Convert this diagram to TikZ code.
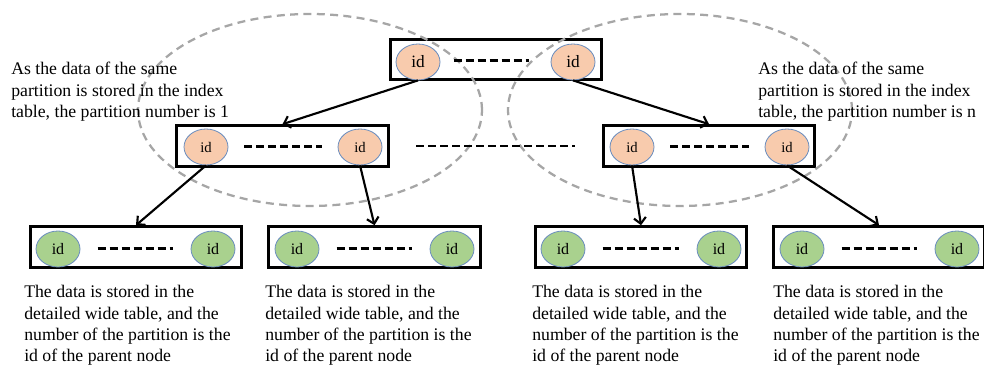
\documentclass[tikz,border=0pt]{standalone}
\usepackage{fontspec}
\setmainfont{Liberation Serif}
\usetikzlibrary{shapes.geometric,arrows.meta}
\definecolor{peach}{HTML}{F8CBAD}
\definecolor{leaf}{HTML}{A9D18E}
\definecolor{idline}{HTML}{6A8DBE}
\definecolor{grp}{HTML}{A6A6A6}
\begin{document}
\begin{tikzpicture}[x=0.75pt,y=-0.75pt,
  tbl/.style={draw=black,line width=2.2pt,minimum width=158.5pt,minimum height=30.5pt,inner sep=0pt},
  idn/.style={ellipse,draw=idline,line width=0.6pt,minimum width=33pt,minimum height=27pt,inner sep=0pt},
  idtop/.style={idn,fill=peach,font=\fontsize{13}{15}\selectfont},
  idmid/.style={idn,fill=peach,font=\fontsize{11}{13}\selectfont},
  idbot/.style={idn,fill=leaf,font=\fontsize{12}{14}\selectfont},
  dotline/.style={black,line width=2pt,dash pattern=on 6pt off 3pt},
  grpline/.style={grp,line width=1.7pt,dash pattern=on 6pt off 4pt},
  arr/.style={black,line width=1.6pt,-{Straight Barb[length=4.5pt,width=9pt]}},
  txt/.style={anchor=north west,align=left,inner sep=0pt,font=\fontsize{13.3}{16.1}\selectfont}]
\useasboundingbox (0,0) rectangle (984,367);
% table boxes
\node[tbl] (top) at (496,59.5) {};
\node[tbl] (ml) at (282.5,146) {};
\node[tbl] (mr) at (709,146) {};
\node[tbl] (b1) at (136,247) {};
\node[tbl] (b2) at (374.5,247) {};
\node[tbl] (b3) at (641,247) {};
\node[tbl] (b4) at (879,247) {};
% partition groups
\draw[grpline] (310,110) ellipse [x radius=129pt, y radius=72pt];
\draw[grpline] (680,110) ellipse [x radius=129pt, y radius=72pt];
% id nodes
\node[idtop] (t1) at (418,62) {id};
\node[idtop] (t2) at (573,62) {id};
\node[idmid] (m1) at (206,147) {id};
\node[idmid] (m2) at (360,147) {id};
\node[idmid] (m3) at (632,147) {id};
\node[idmid] (m4) at (787,147) {id};
\node[idbot] (c1) at (58,249) {id};
\node[idbot] (c2) at (213,249) {id};
\node[idbot] (c3) at (297,249) {id};
\node[idbot] (c4) at (452,249) {id};
\node[idbot] (c5) at (563,249) {id};
\node[idbot] (c6) at (719,249) {id};
\node[idbot] (c7) at (802,249) {id};
\node[idbot] (c8) at (957,249) {id};
% dashed fillers
\draw[dotline] ([xshift=10pt,yshift=1pt]t1.east) -- ([xshift=-16pt,yshift=1pt]t2.west);
\draw[dotline] ([xshift=12pt,yshift=0.5pt]m1.east) -- ([xshift=-12pt,yshift=0.5pt]m2.west);
\draw[dotline] ([xshift=12pt,yshift=0.5pt]m3.east) -- ([xshift=-12pt,yshift=0.5pt]m4.west);
\draw[dotline] ([xshift=20pt]ml.east) -- ([xshift=-20pt]mr.west);
\draw[dotline] ([xshift=13pt,yshift=0.5pt]c1.east) -- ([xshift=-13pt,yshift=0.5pt]c2.west);
\draw[dotline] ([xshift=13pt,yshift=0.5pt]c3.east) -- ([xshift=-13pt,yshift=0.5pt]c4.west);
\draw[dotline] ([xshift=13pt,yshift=0.5pt]c5.east) -- ([xshift=-13pt,yshift=0.5pt]c6.west);
\draw[dotline] ([xshift=13pt,yshift=0.5pt]c7.east) -- ([xshift=-13pt,yshift=0.5pt]c8.west);
% arrows
\draw[arr] (t1.south) -- (ml.north);
\draw[arr] (t2.south) -- (mr.north);
\draw[arr] (m1.south) -- (b1.north);
\draw[arr] (m2.south) -- (b2.north);
\draw[arr] (m3.south) -- (b3.north);
\draw[arr] (m4.south) -- (b4.north);
% texts
\node[txt] (lt) at (11,62) {As the data of the same\\partition is stored in the index\\table, the partition number is 1};
\node[txt] (rt) at (758,62) {As the data of the same\\partition is stored in the index\\table, the partition number is n};
\node[txt] (d1) at (24,285) {The data is stored in the\\detailed wide table, and the\\number of the partition is the\\id of the parent node};
\node[txt] (d2) at (265,285) {The data is stored in the\\detailed wide table, and the\\number of the partition is the\\id of the parent node};
\node[txt] (d3) at (532,285) {The data is stored in the\\detailed wide table, and the\\number of the partition is the\\id of the parent node};
\node[txt] (d4) at (773,285) {The data is stored in the\\detailed wide table, and the\\number of the partition is the\\id of the parent node};
\end{tikzpicture}
\end{document}
